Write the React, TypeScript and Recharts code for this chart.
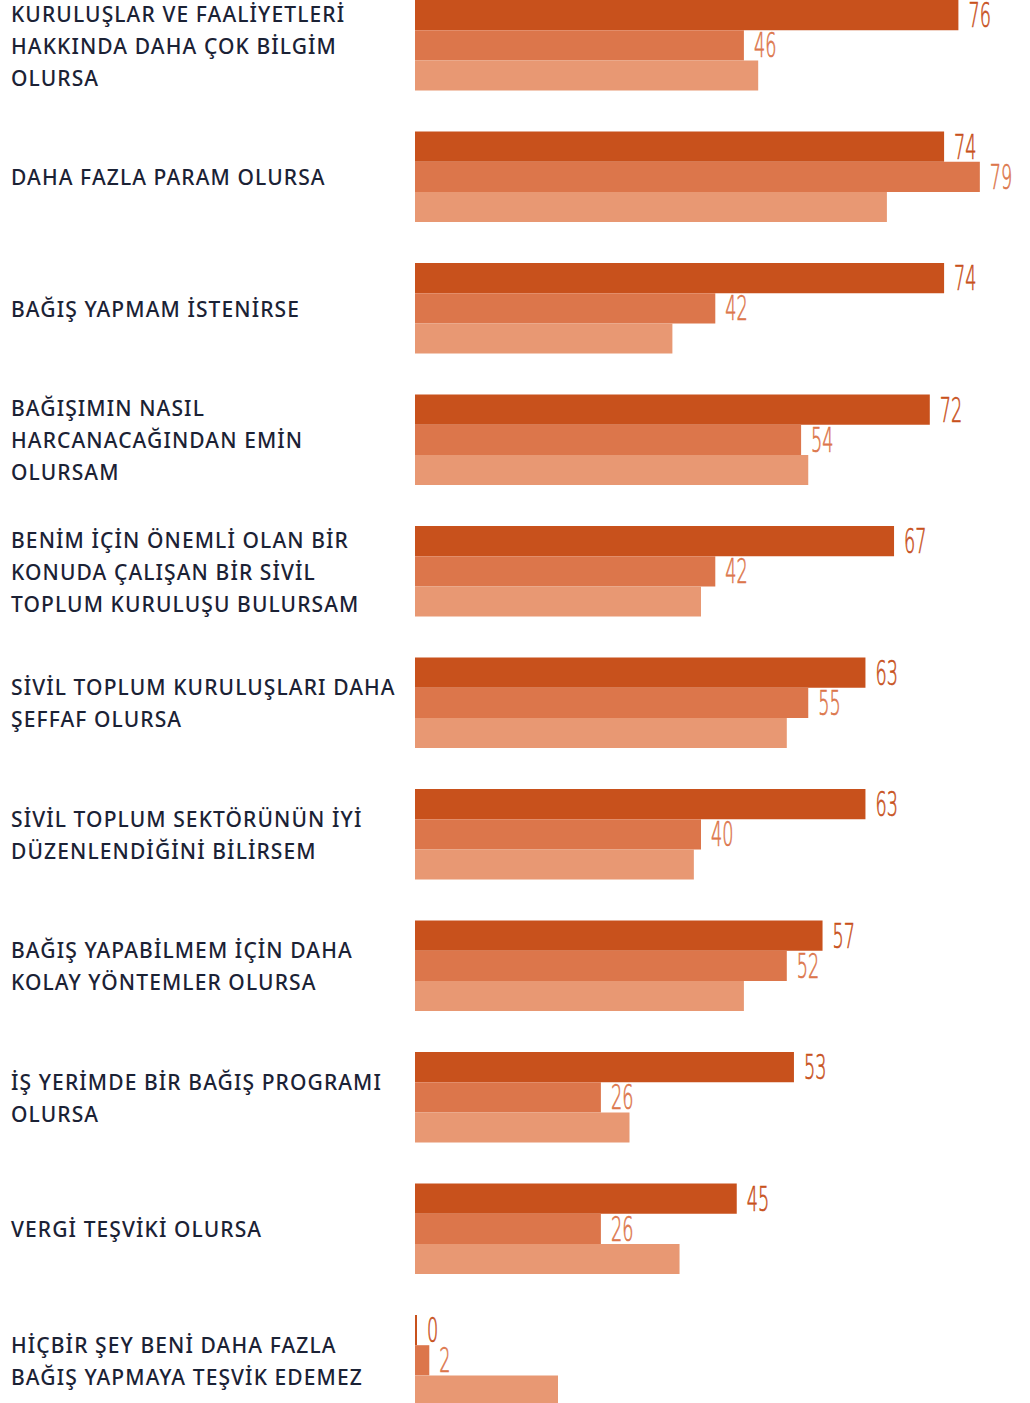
import { Bar, BarChart, LabelList, XAxis, YAxis } from 'recharts';

const categories = [
  'KURULUŞLAR VE FAALİYETLERİ\nHAKKINDA DAHA ÇOK BİLGİM\nOLURSA',
  'DAHA FAZLA PARAM OLURSA',
  'BAĞIŞ YAPMAM İSTENİRSE',
  'BAĞIŞIMIN NASIL\nHARCANACAĞINDAN EMİN\nOLURSAM',
  'BENİM İÇİN ÖNEMLİ OLAN BİR\nKONUDA ÇALIŞAN BİR SİVİL\nTOPLUM KURULUŞU BULURSAM',
  'SİVİL TOPLUM KURULUŞLARI DAHA\nŞEFFAF OLURSA',
  'SİVİL TOPLUM SEKTÖRÜNÜN İYİ\nDÜZENLENDİĞİNİ BİLİRSEM',
  'BAĞIŞ YAPABİLMEM İÇİN DAHA\nKOLAY YÖNTEMLER OLURSA',
  'İŞ YERİMDE BİR BAĞIŞ PROGRAMI\nOLURSA',
  'VERGİ TEŞVİKİ OLURSA',
  'HİÇBİR ŞEY BENİ DAHA FAZLA\nBAĞIŞ YAPMAYA TEŞVİK EDEMEZ',
];

const seriesA = [76, 74, 74, 72, 67, 63, 63, 57, 53, 45, 0];
const seriesB = [46, 79, 42, 54, 42, 55, 40, 52, 26, 26, 2];
const seriesC = [48, 66, 36, 55, 40, 52, 39, 46, 30, 37, 20];

const COLORS = ['#c8511c', '#dc764b', '#e89873'];

const data = categories.map((name, i) => ({
  name,
  a: seriesA[i],
  b: seriesB[i],
  c: seriesC[i],
}));

const BAND = 131.5;
const CHART_H = BAND * categories.length;

function CategoryTick({ y, payload }: any) {
  const lines = String(payload.value).split('\n');
  const lh = 32;
  const start = y - ((lines.length - 1) * lh) / 2;
  return (
    <text
      x={11}
      y={start}
      fill="#1b2235"
      fontFamily="'Noto Sans', sans-serif"
      fontWeight={500}
      fontSize={21}
      letterSpacing={1.1}
      dominantBaseline="central"
      textAnchor="start"
    >
      {lines.map((l, i) => (
        <tspan key={i} x={11} y={start + i * lh} dominantBaseline="central">
          {l}
        </tspan>
      ))}
    </text>
  );
}

function valueLabel(color: string) {
  return (props: any) => {
    const { x, y, width, height, value } = props;
    const tx = x + width + 10;
    const ty = y + height / 2 + 12;
    return (
      <text
        transform={`translate(${tx},${ty}) scale(0.52,1)`}
        fill={color}
        stroke={color}
        strokeWidth={0.7}
        fontFamily="'DejaVu Sans', sans-serif"
        fontWeight={200}
        fontSize={34}
      >
        {value}
      </text>
    );
  };
}

export default function App() {
  return (
    <div
      style={{
        position: 'absolute',
        top: 0,
        left: 0,
        width: 1030,
        height: 1403,
        overflow: 'hidden',
        background: '#ffffff',
      }}
    >
      <div style={{ position: 'relative', top: -20.45 }}>
        <BarChart
          width={1030}
          height={CHART_H}
          data={data}
          layout="vertical"
          margin={{ top: 0, right: 43, bottom: 0, left: 0 }}
          barGap={0}
          barSize={30.2}
        >
          <XAxis type="number" domain={[0, 80]} hide />
          <YAxis
            type="category"
            dataKey="name"
            width={415}
            axisLine={false}
            tickLine={false}
            interval={0}
            tick={<CategoryTick />}
          />
          <Bar dataKey="a" fill={COLORS[0]} isAnimationActive={false} minPointSize={2}>
            <LabelList dataKey="a" content={valueLabel(COLORS[0])} />
          </Bar>
          <Bar dataKey="b" fill={COLORS[1]} isAnimationActive={false}>
            <LabelList dataKey="b" content={valueLabel(COLORS[1])} />
          </Bar>
          <Bar dataKey="c" fill={COLORS[2]} isAnimationActive={false} />
        </BarChart>
      </div>
    </div>
  );
}
